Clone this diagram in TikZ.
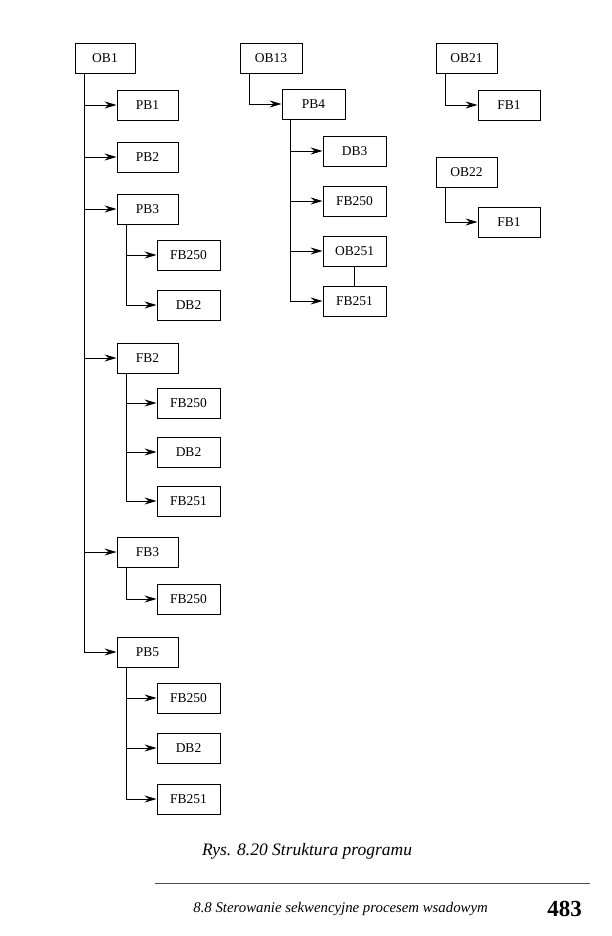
\documentclass[tikz,border=0pt]{standalone}
\usepackage{fontspec}
\setmainfont{Liberation Serif}
\usetikzlibrary{arrows.meta,calc}
\tikzset{
  blk/.style={draw, line width=0.9pt, minimum width=62pt, minimum height=30pt, inner sep=0pt, font=\fontsize{13.5}{15}\selectfont},
  arr/.style={line width=0.9pt, -{Stealth[length=12pt,width=7pt,inset=4pt]}},
  lnk/.style={line width=0.9pt}
}
\begin{document}
\begin{tikzpicture}[x=1pt,y=-1pt]
\useasboundingbox (0,0) rectangle (612,936);
% left column
\node[blk, minimum width=60pt] (ob1) at (105,58) {OB1};
\node[blk, minimum width=61pt] (pb1) at (147.5,105) {PB1};
\node[blk, minimum width=61pt] (pb2) at (147.5,157) {PB2};
\node[blk, minimum width=61pt] (pb3) at (147.5,209) {PB3};
\node[blk, minimum width=63pt] (fb250a) at (188.5,255) {FB250};
\node[blk, minimum width=63pt] (db2a) at (188.5,305) {DB2};
\node[blk, minimum width=61pt] (fb2) at (147.5,358) {FB2};
\node[blk, minimum width=63pt] (fb250b) at (188.5,403) {FB250};
\node[blk, minimum width=63pt] (db2b) at (188.5,452) {DB2};
\node[blk, minimum width=63pt] (fb251b) at (188.5,501) {FB251};
\node[blk, minimum width=61pt] (fb3) at (147.5,552) {FB3};
\node[blk, minimum width=63pt] (fb250c) at (188.5,599) {FB250};
\node[blk, minimum width=61pt] (pb5) at (147.5,652) {PB5};
\node[blk, minimum width=63pt] (fb250d) at (188.5,698) {FB250};
\node[blk, minimum width=63pt] (db2d) at (188.5,748) {DB2};
\node[blk, minimum width=63pt] (fb251d) at (188.5,799) {FB251};
% middle column
\node[blk] (ob13) at (271,58) {OB13};
\node[blk, minimum width=63pt] (pb4) at (313.5,104) {PB4};
\node[blk, minimum width=63pt] (db3) at (354.5,151) {DB3};
\node[blk, minimum width=63pt] (fb250m) at (354.5,201) {FB250};
\node[blk, minimum width=63pt] (ob251) at (354.5,251) {OB251};
\node[blk, minimum width=63pt] (fb251m) at (354.5,301) {FB251};
% right column
\node[blk, minimum width=61pt] (ob21) at (466.5,58) {OB21};
\node[blk] (fb1a) at (509,105) {FB1};
\node[blk, minimum width=61pt] (ob22) at (466.5,172) {OB22};
\node[blk] (fb1b) at (509,222) {FB1};
% trunk coordinates
\coordinate (t1) at ($(ob1.south west)+(10,0)$);
\coordinate (t3) at ($(pb3.south west)+(10,0)$);
\coordinate (tf2) at ($(fb2.south west)+(10,0)$);
\coordinate (tf3) at ($(fb3.south west)+(10,0)$);
\coordinate (t5) at ($(pb5.south west)+(10,0)$);
\coordinate (t13) at ($(ob13.south west)+(10,0)$);
\coordinate (t4) at ($(pb4.south west)+(9,0)$);
\coordinate (t21) at ($(ob21.south west)+(10,0)$);
\coordinate (t22) at ($(ob22.south west)+(10,0)$);
% OB1 tree
\foreach \c in {pb1,pb2,pb3,fb2,fb3,pb5} \draw[arr] (t1) |- (\c.west);
\foreach \c in {fb250a,db2a} \draw[arr] (t3) |- (\c.west);
\foreach \c in {fb250b,db2b,fb251b} \draw[arr] (tf2) |- (\c.west);
\draw[arr] (tf3) |- (fb250c.west);
\foreach \c in {fb250d,db2d,fb251d} \draw[arr] (t5) |- (\c.west);
% OB13 tree
\draw[arr] (t13) |- (pb4.west);
\foreach \c in {db3,fb250m,ob251,fb251m} \draw[arr] (t4) |- (\c.west);
\draw[lnk] (ob251.south) -- (fb251m.north);
% OB21, OB22
\draw[arr] (t21) |- (fb1a.west);
\draw[arr] (t22) |- (fb1b.west);
% caption and footer
\node[font=\fontsize{17.5}{20}\selectfont\itshape] (cap) at (307,851) {Rys. 8.20 Struktura programu};
\coordinate (r1) at (155,883);
\coordinate (r2) at (590,883);
\draw[line width=0.9pt, black!70] (r1) -- (r2);
\node[font=\fontsize{14.8}{17}\selectfont\itshape, anchor=base east, inner sep=0pt] (foot) at (488,912) {8.8 Sterowanie sekwencyjne procesem wsadowym};
\node[font=\fontsize{23}{26}\selectfont\bfseries, anchor=base east, inner sep=0pt] (page) at (582,916) {483};
\end{tikzpicture}
\end{document}
